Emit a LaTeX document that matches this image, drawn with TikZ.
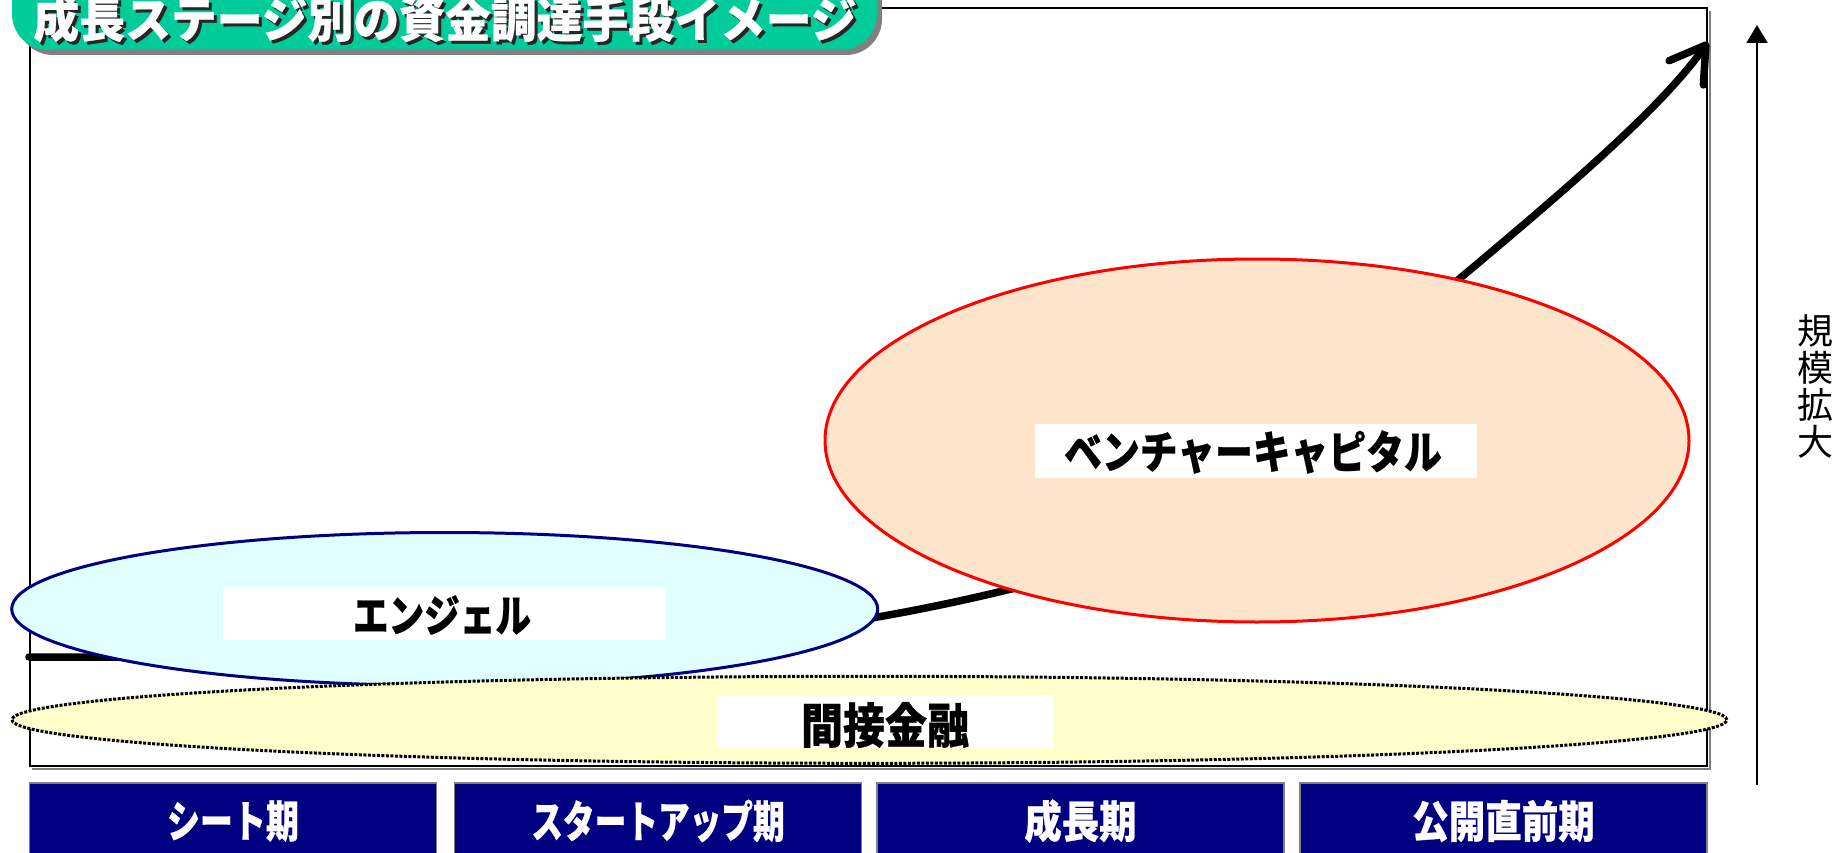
\documentclass[tikz,border=0pt]{standalone}
\usepackage{fontspec}
\usepackage{graphicx}
\newfontfamily\jp{Noto Sans CJK JP}[BoldFeatures={FakeBold=0.6}]
\usetikzlibrary{arrows.meta,shapes.geometric}
\definecolor{ttlgreen}{RGB}{0,204,153}
\definecolor{angelfill}{RGB}{224,255,255}
\definecolor{vcfill}{RGB}{255,228,204}
\definecolor{bankfill}{RGB}{255,255,204}
\definecolor{navyblue}{RGB}{0,0,128}
\definecolor{shadowgray}{RGB}{128,128,128}
\tikzset{
  oval/.style={ellipse, inner sep=0pt, line width=3pt},
  whitelabel/.style={fill=white, inner sep=0pt},
  jptext/.style={inner sep=0pt, text=black},
  stagebox/.style={rectangle, fill=navyblue, draw=shadowgray, line width=1.5pt, minimum width=407pt, minimum height=76pt, inner sep=0pt},
  growth/.style={line width=7.5pt, line cap=round, line join=round},
}
\newcommand{\hs}[2]{\scalebox{#1}[1]{#2}}
\begin{document}
\begin{tikzpicture}[x=1pt,y=-1pt]
\useasboundingbox (0,0) rectangle (1847,853);
\clip (0,0) rectangle (1847,853);
% frame
\draw[shadowgray, line width=2pt] (1710,11) -- (1710,769) -- (32,769);
\node[draw=black, line width=2pt, minimum width=1677pt, minimum height=758pt, inner sep=0pt] (frame) at (868.5,387) {};
% growth curve
\coordinate (c0) at (29,657);
\coordinate (c1) at (250,657);
\coordinate (c2) at (1007,590);
\coordinate (c3) at (1458,280);
\coordinate (c4) at (1708,42);
\draw[growth, -{Straight Barb[length=34pt,width=42pt,round]}] (c0) -- (c1) .. controls (600,657) and (800,640) .. (c2) .. controls (1157,557) and (1338,381) .. (c3) .. controls (1558,196) and (1660,110) .. (c4);
% ellipses
\node[oval, draw=navyblue, fill=angelfill, minimum width=866pt, minimum height=153pt] (angel) at (444.7,609) {};
\node[oval, draw=red, fill=vcfill, minimum width=864pt, minimum height=363pt] (vc) at (1257,440.5) {};
\node[oval, draw=black, fill=bankfill, dash pattern=on 3pt off 1.5pt, minimum width=1715pt, minimum height=87pt] (bank) at (869.4,719.8) {};
% labels
\node[whitelabel, minimum width=443pt, minimum height=52pt] (angelbox) at (444.5,614) {};
\node[jptext, font=\jp\bfseries\fontsize{44}{44}\selectfont] (angeltxt) at (442,615) {\hs{0.81}{エンジェル}};
\node[whitelabel, minimum width=442pt, minimum height=54pt] (vcbox) at (1256,451) {};
\node[jptext, font=\jp\bfseries\fontsize{45}{45}\selectfont] (vctxt) at (1253,452) {\hs{0.84}{ベンチャーキャピタル}};
\node[whitelabel, minimum width=336pt, minimum height=53pt] (bankbox) at (885,721.5) {};
\node[jptext, font=\jp\bfseries\fontsize{48}{48}\selectfont] (banktxt) at (885,725) {\hs{0.875}{間接金融}};
% title
\fill[shadowgray, rounded corners=36pt] (17,-40) rectangle (882,55);
\node[fill=ttlgreen, rounded corners=36pt, minimum width=865pt, minimum height=90pt, inner sep=0pt] (title) at (444.5,5) {};
\node[jptext, text=black!85, font=\jp\bfseries\fontsize{48}{48}\selectfont] (titleshadow) at (448,22) {\hs{0.955}{成長ステージ別の資金調達手段イメージ}};
\node[jptext, text=white, font=\jp\bfseries\fontsize{48}{48}\selectfont] (titletxt) at (445,19) {\hs{0.955}{成長ステージ別の資金調達手段イメージ}};
% stages
\node[stagebox] (s1) at (233,821) {};
\node[stagebox] (s2) at (658,821) {};
\node[stagebox] (s3) at (1080.5,821) {};
\node[stagebox] (s4) at (1503.5,821) {};
\node[jptext, text=white, font=\jp\bfseries\fontsize{44}{44}\selectfont] at (s1) {\hs{0.75}{シート期}};
\node[jptext, text=white, font=\jp\bfseries\fontsize{44}{44}\selectfont] at (s2) {\hs{0.72}{スタートアップ期}};
\node[jptext, text=white, font=\jp\bfseries\fontsize{44}{44}\selectfont] at (s3) {\hs{0.85}{成長期}};
\node[jptext, text=white, font=\jp\bfseries\fontsize{44}{44}\selectfont] at (s4) {\hs{0.83}{公開直前期}};
% scale axis
\coordinate (ax0) at (1757,785);
\coordinate (ax1) at (1757,25);
\draw[line width=2pt, -{Triangle[length=18pt,width=21pt]}] (ax0) -- (ax1);
\node[jptext, align=center, font=\jp\fontsize{36}{37}\selectfont] (axlabel) at (1815,386) {規\\模\\拡\\大};
\end{tikzpicture}
\end{document}
